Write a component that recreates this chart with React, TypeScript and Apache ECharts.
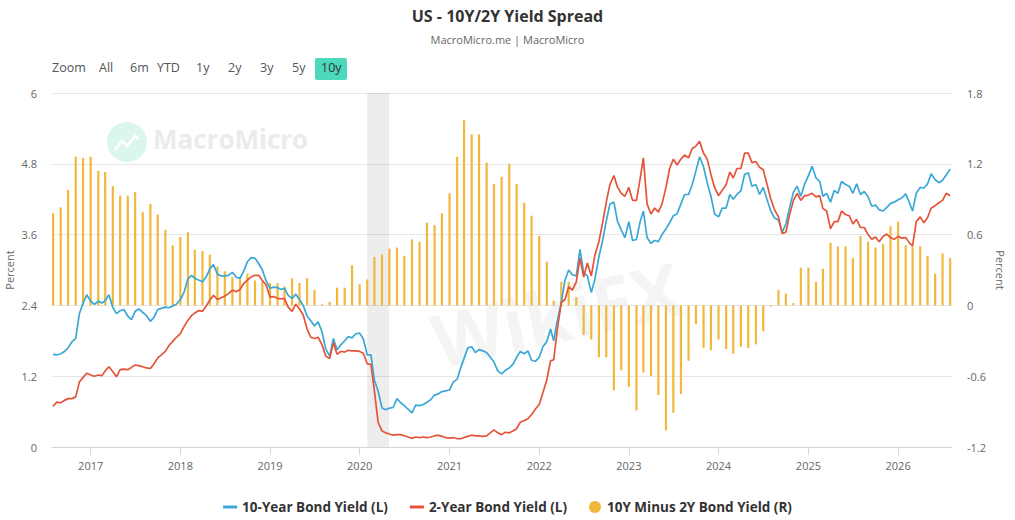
import React, { useEffect, useRef } from "react";
import * as echarts from "echarts";

const TITLE = "US - 10Y/2Y Yield Spread";
const SUBTITLE = "MacroMicro.me | MacroMicro";
const SERIES_NAMES = ["10-Year Bond Yield (L)", "2-Year Bond Yield (L)", "10Y Minus 2Y Bond Yield (R)"];
const ZOOM_LABEL = "Zoom";
const RANGE_BUTTONS = ["All", "6m", "YTD", "1y", "2y", "3y", "5y", "10y"];
const ACTIVE_BUTTON = "10y";
const AXIS_NAME = "Percent";
const X_START = "2016-08-01";
const X_END = "2026-08-04";
const RECESSION = ["2020-02-01", "2020-04-30"];
const LEFT_RANGE = [0, 6, 1.2];
const RIGHT_RANGE = [-1.2, 1.8, 0.6];

// semi-monthly observations (1st and 16th of each month) starting Aug 2016
const TEN_Y = [
  1.57, 1.56, 1.58, 1.62, 1.68, 1.78, 1.84, 2.26, 2.44, 2.58,
  2.47, 2.42, 2.47, 2.44, 2.48, 2.58, 2.37, 2.26, 2.31, 2.33,
  2.22, 2.16, 2.30, 2.34, 2.28, 2.23, 2.13, 2.20, 2.33, 2.35,
  2.37, 2.36, 2.39, 2.42, 2.50, 2.62, 2.85, 2.91, 2.86, 2.83,
  2.80, 2.88, 3.02, 3.09, 2.93, 2.90, 2.90, 2.91, 2.96, 2.88,
  2.86, 2.98, 3.14, 3.21, 3.20, 3.11, 3.00, 2.82, 2.69, 2.71,
  2.70, 2.67, 2.69, 2.57, 2.52, 2.59, 2.50, 2.40, 2.22, 2.14,
  2.05, 2.12, 1.95, 1.66, 1.54, 1.84, 1.65, 1.73, 1.80, 1.87,
  1.85, 1.92, 1.93, 1.83, 1.56, 1.56, 1.13, 0.95, 0.66, 0.63,
  0.66, 0.67, 0.82, 0.75, 0.70, 0.64, 0.58, 0.71, 0.70, 0.72,
  0.76, 0.80, 0.88, 0.90, 0.94, 0.95, 0.97, 1.10, 1.15, 1.35,
  1.50, 1.68, 1.70, 1.60, 1.65, 1.63, 1.60, 1.52, 1.44, 1.29,
  1.24, 1.30, 1.34, 1.40, 1.52, 1.62, 1.58, 1.63, 1.47, 1.45,
  1.52, 1.70, 1.79, 2.00, 1.80, 2.15, 2.45, 2.83, 3.00, 2.92,
  2.90, 3.35, 2.95, 2.90, 2.62, 2.85, 3.22, 3.50, 3.83, 4.12,
  4.15, 3.82, 3.68, 3.55, 3.82, 3.50, 3.52, 3.82, 4.00, 3.55,
  3.45, 3.50, 3.48, 3.60, 3.70, 3.80, 3.92, 3.95, 4.12, 4.28,
  4.28, 4.45, 4.68, 4.92, 4.75, 4.48, 4.25, 3.95, 3.90, 4.05,
  4.05, 4.28, 4.20, 4.28, 4.34, 4.62, 4.65, 4.42, 4.45, 4.28,
  4.40, 4.20, 4.00, 3.88, 3.85, 3.64, 3.78, 4.05, 4.32, 4.42,
  4.25, 4.45, 4.60, 4.76, 4.56, 4.50, 4.25, 4.30, 4.15, 4.35,
  4.30, 4.50, 4.45, 4.42, 4.30, 4.46, 4.28, 4.33, 4.24, 4.08,
  4.10, 4.02, 4.00, 4.06, 4.13, 4.15, 4.19, 4.22, 4.29, 4.14,
  4.00, 4.30, 4.40, 4.39, 4.46, 4.63, 4.53, 4.48, 4.52, 4.61,
  4.71,
];

const TWO_Y = [
  0.69, 0.76, 0.75, 0.79, 0.82, 0.82, 0.85, 1.10, 1.18, 1.25,
  1.22, 1.20, 1.22, 1.21, 1.29, 1.36, 1.28, 1.19, 1.31, 1.32,
  1.31, 1.35, 1.39, 1.38, 1.36, 1.34, 1.33, 1.41, 1.51, 1.56,
  1.62, 1.72, 1.79, 1.86, 1.92, 2.04, 2.15, 2.23, 2.27, 2.31,
  2.30, 2.39, 2.49, 2.57, 2.50, 2.53, 2.56, 2.60, 2.66, 2.63,
  2.67, 2.77, 2.83, 2.88, 2.91, 2.91, 2.82, 2.75, 2.54, 2.55,
  2.52, 2.51, 2.52, 2.37, 2.30, 2.42, 2.34, 2.24, 2.00, 1.86,
  1.84, 1.86, 1.73, 1.54, 1.50, 1.77, 1.57, 1.62, 1.61, 1.64,
  1.63, 1.63, 1.62, 1.59, 1.41, 1.40, 0.95, 0.42, 0.27, 0.24,
  0.22, 0.20, 0.21, 0.21, 0.19, 0.17, 0.15, 0.17, 0.16, 0.17,
  0.16, 0.17, 0.19, 0.20, 0.18, 0.16, 0.15, 0.16, 0.14, 0.14,
  0.16, 0.18, 0.20, 0.19, 0.19, 0.18, 0.19, 0.24, 0.29, 0.24,
  0.21, 0.25, 0.24, 0.27, 0.31, 0.42, 0.45, 0.48, 0.55, 0.64,
  0.72, 0.92, 1.14, 1.46, 1.48, 2.00, 2.45, 2.50, 2.72, 2.66,
  2.80, 3.20, 2.88, 3.12, 2.90, 3.26, 3.48, 3.80, 4.15, 4.45,
  4.60, 4.40, 4.30, 4.25, 4.40, 4.18, 4.18, 4.55, 4.90, 4.12,
  3.95, 4.05, 3.98, 4.12, 4.40, 4.72, 4.88, 4.78, 4.88, 4.95,
  4.90, 5.06, 5.10, 5.18, 4.98, 4.88, 4.62, 4.40, 4.26, 4.35,
  4.45, 4.66, 4.56, 4.72, 4.72, 4.98, 4.98, 4.82, 4.84, 4.74,
  4.70, 4.46, 4.20, 4.02, 3.90, 3.62, 3.64, 3.93, 4.18, 4.30,
  4.18, 4.26, 4.27, 4.30, 4.24, 4.26, 4.04, 4.00, 3.70, 3.82,
  3.82, 4.00, 3.94, 3.92, 3.78, 3.86, 3.72, 3.72, 3.60, 3.52,
  3.56, 3.48, 3.57, 3.61, 3.55, 3.52, 3.57, 3.54, 3.55, 3.46,
  3.41, 3.82, 3.90, 3.80, 3.89, 4.05, 4.09, 4.14, 4.18, 4.30,
  4.26,
];

// monthly spread (month-end), Aug 2016 .. Aug 2026
const SPREAD = [
  0.78, 0.83, 0.98, 1.26, 1.25, 1.26, 1.14, 1.13, 1.01, 0.93,
  0.93, 0.96, 0.79, 0.86, 0.77, 0.64, 0.51, 0.58, 0.62, 0.47,
  0.46, 0.43, 0.33, 0.29, 0.24, 0.23, 0.27, 0.21, 0.20, 0.19,
  0.19, 0.16, 0.23, 0.19, 0.23, 0.13, 0.01, 0.03, 0.15, 0.15,
  0.34, 0.18, 0.22, 0.41, 0.43, 0.48, 0.49, 0.42, 0.56, 0.54,
  0.70, 0.68, 0.78, 0.95, 1.26, 1.57, 1.45, 1.45, 1.21, 1.03,
  1.09, 1.20, 1.03, 0.87, 0.76, 0.59, 0.37, 0.04, 0.20, 0.20,
  0.07, -0.25, -0.29, -0.44, -0.44, -0.72, -0.55, -0.69, -0.89, -0.57,
  -0.60, -0.76, -1.06, -0.91, -0.75, -0.47, -0.16, -0.36, -0.38, -0.29,
  -0.37, -0.41, -0.35, -0.36, -0.33, -0.22, -0.01, 0.13, 0.10, 0.02,
  0.32, 0.32, 0.20, 0.31, 0.53, 0.50, 0.50, 0.40, 0.59, 0.54,
  0.49, 0.52, 0.67, 0.71, 0.51, 0.50, 0.50, 0.42, 0.27, 0.44,
  0.40,
];

const pad = (n: number) => String(n).padStart(2, "0");
const monthDate = (k: number, day: string) => {
  const idx = 7 + k; // Aug 2016 = month index 7 (0-based) of 2016
  const y = 2016 + Math.floor(idx / 12);
  const m = (idx % 12) + 1;
  return `${y}-${pad(m)}-${day}`;
};
const LINE_DATES = TEN_Y.map((_, h) => monthDate(h >> 1, h % 2 ? "16" : "01"));
const BAR_DATES = SPREAD.map((_, k) => monthDate(k, "01"));

const FONT = "'Open Sans', 'Noto Sans', sans-serif";
const BLUE = "#3aa8d6";
const RED = "#e5533a";
const GOLD = "#f1b83c";

export default function App() {
  const ref = useRef<HTMLDivElement>(null);

  useEffect(() => {
    document.body.style.margin = "0";
    if (!ref.current) return;
    const chart = echarts.init(ref.current, null, { renderer: "svg" });

    const buttonX = [99, 130, 157, 196, 228, 260, 292, 321];
    const graphics: any[] = [
      {
        type: "text",
        left: 52,
        top: 61,
        style: { text: ZOOM_LABEL, fontSize: 12.5, fill: "#555", fontFamily: FONT },
      },
      // axis names
      {
        type: "text",
        x: 9,
        y: 270,
        rotation: Math.PI / 2,
        style: {
          text: AXIS_NAME,
          fontSize: 11,
          fill: "#666",
          fontFamily: FONT,
          align: "center",
          verticalAlign: "middle",
        },
      },
      {
        type: "text",
        x: 1000,
        y: 270,
        rotation: -Math.PI / 2,
        style: {
          text: AXIS_NAME,
          fontSize: 11,
          fill: "#666",
          fontFamily: FONT,
          align: "center",
          verticalAlign: "middle",
        },
      },
    ];
    RANGE_BUTTONS.forEach((b, i) => {
      if (b === ACTIVE_BUTTON) {
        graphics.push({
          type: "rect",
          shape: { x: 315, y: 58, width: 32, height: 22, r: 2 },
          style: { fill: "#4cd9bb" },
          z: 1,
        });
      }
      graphics.push({
        type: "text",
        left: buttonX[i],
        top: 61,
        z: 2,
        style: { text: b, fontSize: 12.5, fill: b === ACTIVE_BUTTON ? "#333" : "#555", fontFamily: FONT },
      });
    });
    // MacroMicro watermark
    graphics.push(
      { type: "circle", shape: { cx: 127, cy: 142, r: 20 }, style: { fill: "#dbf6ef" }, z: 0, silent: true },
      {
        type: "polyline",
        shape: { points: [[115, 150], [122, 141], [127, 146], [135, 136], [139, 139]] },
        style: { stroke: "#ffffff", lineWidth: 2.5, fill: null },
        z: 0,
        silent: true,
      },
      {
        type: "text",
        left: 153,
        top: 126,
        z: 0,
        silent: true,
        style: { text: "MacroMicro", fontSize: 26, fontWeight: "bold", fill: "#ebebeb", fontFamily: FONT },
      },
      {
        type: "text",
        left: 425,
        top: 250,
        z: 0,
        silent: true,
        rotation: 0.22,
        style: { text: "WikiFX", fontSize: 74, fontWeight: "bold", fill: "rgba(0,0,0,0.045)", fontFamily: FONT },
      }
    );

    const option: any = {
      animation: false,
      textStyle: { fontFamily: FONT },
      title: [
        {
          text: TITLE,
          left: "center",
          top: 3,
          textStyle: { fontSize: 16, fontWeight: "bold", color: "#333", fontFamily: FONT },
        },
        {
          text: SUBTITLE,
          left: "center",
          top: 29,
          textStyle: { fontSize: 11, fontWeight: "normal", color: "#666", fontFamily: FONT },
        },
      ],
      grid: { left: 52, right: 63, top: 93, bottom: 73, outerBoundsMode: "none", containLabel: false },
      legend: {
        top: 495,
        left: "center",
        itemGap: 22,
        itemWidth: 14,
        itemHeight: 12,
        textStyle: { fontSize: 13.5, fontWeight: "bold", color: "#333", fontFamily: FONT },
        data: [
          { name: SERIES_NAMES[0], icon: "path://M0,0h14v3h-14z" },
          { name: SERIES_NAMES[1], icon: "path://M0,0h14v3h-14z" },
          { name: SERIES_NAMES[2], icon: "circle" },
        ],
      },
      xAxis: {
        type: "time",
        min: X_START,
        max: X_END,
        minInterval: 365 * 24 * 3600 * 1000,
        maxInterval: 366 * 24 * 3600 * 1000,
        splitLine: { show: false },
        axisLine: { lineStyle: { color: "#d6d6d6" } },
        axisTick: { show: true, length: 8, lineStyle: { color: "#d6d6d6" } },
        axisLabel: {
          color: "#666",
          fontSize: 11,
          margin: 13,
          formatter: (v: number) => String(new Date(v).getFullYear()),
        },
      },
      yAxis: [
        {
          type: "value",
          position: "left",
          min: LEFT_RANGE[0],
          max: LEFT_RANGE[1],
          interval: LEFT_RANGE[2],
          axisLine: { show: false },
          axisTick: { show: false },
          axisLabel: { color: "#666", fontSize: 11, margin: 15 },
          splitLine: { lineStyle: { color: "#e6e6e6" } },
        },
        {
          type: "value",
          position: "right",
          min: RIGHT_RANGE[0],
          max: RIGHT_RANGE[1],
          interval: RIGHT_RANGE[2],
          axisLine: { show: false },
          axisTick: { show: false },
          axisLabel: { color: "#666", fontSize: 11, margin: 15 },
          splitLine: { show: false },
        },
      ],
      series: [
        {
          name: SERIES_NAMES[2],
          type: "bar",
          yAxisIndex: 1,
          barWidth: 2.2,
          z: 1,
          itemStyle: { color: GOLD },
          data: BAR_DATES.map((d, i) => [d, SPREAD[i]]),
          markArea: {
            silent: true,
            itemStyle: { color: "rgba(0,0,0,0.07)" },
            data: [[{ xAxis: RECESSION[0] }, { xAxis: RECESSION[1] }]],
          },
        },
        {
          name: SERIES_NAMES[0],
          type: "line",
          yAxisIndex: 0,
          symbol: "none",
          showSymbol: false,
          z: 3,
          itemStyle: { color: BLUE },
          lineStyle: { color: BLUE, width: 1.7 },
          data: LINE_DATES.map((d, i) => [d, TEN_Y[i]]),
        },
        {
          name: SERIES_NAMES[1],
          type: "line",
          yAxisIndex: 0,
          symbol: "none",
          showSymbol: false,
          z: 4,
          itemStyle: { color: RED },
          lineStyle: { color: RED, width: 1.7 },
          data: LINE_DATES.map((d, i) => [d, TWO_Y[i]]),
        },
      ],
      graphic: graphics,
    };

    chart.setOption(option);
    return () => chart.dispose();
  }, []);

  return <div ref={ref} style={{ width: 1015, height: 520 }} />;
}
